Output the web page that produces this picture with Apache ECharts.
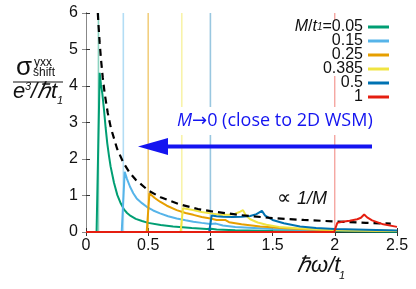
<!DOCTYPE html>
<html><head><meta charset="utf-8">
<script src="https://cdn.jsdelivr.net/npm/echarts@6/dist/echarts.min.js"></script>
<style>html,body{margin:0;padding:0;background:#fff}#c{width:416px;height:289px}</style>
</head><body><div id="c"></div>
<script>
// ---- data ----
const massLabels = ['0.05', '0.15', '0.25', '0.385', '0.5', '1'];
const gapOnsets = [0.1, 0.3, 0.5, 0.77, 1.0, 2.0];   // ħω = 2M
const xTicks = [0, 0.5, 1, 1.5, 2, 2.5];
const yTicks = [0, 1, 2, 3, 4, 5, 6];

const curveM005 = [[0,0],[0.085,0],[0.11,4.36],[0.12,4.05],[0.131,3.8],[0.145,3.34],[0.158,2.85],[0.171,2.43],[0.185,2.08],[0.198,1.79],[0.225,1.35],[0.252,1.01],[0.28,0.78],[0.305,0.62],[0.33,0.52],[0.359,0.44],[0.4,0.36],[0.45,0.3],[0.5,0.25],[0.6,0.19],[0.7,0.15],[0.85,0.11],[0.97,0.08],[1.005,0.09],[1.05,0.07],[1.2,0.05],[1.5,0.03],[2,0.02],[2.5,0.01]];
const curveM015 = [[0,0],[0.287,0],[0.311,1.65],[0.33,1.45],[0.354,1.24],[0.38,1.06],[0.407,0.92],[0.45,0.79],[0.488,0.69],[0.54,0.59],[0.595,0.51],[0.66,0.43],[0.729,0.37],[0.8,0.32],[0.863,0.28],[0.93,0.25],[1.0,0.22],[1.044,0.23],[1.1,0.18],[1.2,0.14],[1.35,0.11],[1.5,0.08],[1.75,0.06],[2,0.05],[2.25,0.04],[2.5,0.03]];
const curveM025 = [[0,0],[0.488,0],[0.51,1.06],[0.55,0.94],[0.595,0.83],[0.65,0.72],[0.729,0.6],[0.8,0.52],[0.863,0.47],[0.93,0.41],[1.0,0.37],[1.05,0.33],[1.118,0.33],[1.15,0.27],[1.25,0.21],[1.4,0.15],[1.6,0.1],[1.8,0.07],[2,0.05],[2.25,0.04],[2.5,0.03]];
const curveM0385 = [[0,0],[0.76,0],[0.78,0.65],[0.86,0.6],[0.93,0.55],[1.0,0.51],[1.08,0.47],[1.15,0.47],[1.2,0.5],[1.24,0.56],[1.262,0.6],[1.285,0.45],[1.32,0.35],[1.38,0.26],[1.45,0.2],[1.55,0.14],[1.7,0.1],[1.9,0.07],[2.1,0.05],[2.5,0.03]];
const curveM05 = [[0,0],[0.99,0],[1.01,0.45],[1.05,0.43],[1.1,0.42],[1.18,0.41],[1.25,0.42],[1.32,0.44],[1.37,0.49],[1.414,0.58],[1.44,0.45],[1.5,0.33],[1.59,0.24],[1.72,0.15],[1.85,0.11],[2,0.08],[2.25,0.06],[2.5,0.04]];
const curveM1 = [[0,0],[1.995,0],[2.02,0.25],[2.06,0.28],[2.12,0.31],[2.18,0.35],[2.21,0.39],[2.236,0.48],[2.26,0.4],[2.3,0.32],[2.39,0.21],[2.5,0.14]];
const inverseM = [[0.095,6],[0.1,5.7],[0.11,5.18],[0.12,4.75],[0.135,4.22],[0.15,3.8],[0.175,3.26],[0.2,2.85],[0.25,2.28],[0.3,1.9],[0.35,1.63],[0.4,1.43],[0.5,1.14],[0.6,0.95],[0.75,0.76],[0.9,0.63],[1,0.57],[1.25,0.46],[1.5,0.38],[1.75,0.33],[2,0.29],[2.25,0.25],[2.45,0.23]];

const curves = [curveM005, curveM015, curveM025, curveM0385, curveM05, curveM1];

// ---- styles ----
const colors = ['#009e73', '#56b4e9', '#e69f00', '#f0e442', '#0072b2', '#e51e10'];
const lightColors = ['rgba(0,158,115,0.45)', 'rgba(86,180,233,0.45)', 'rgba(230,159,0,0.5)', 'rgba(240,228,66,0.45)', 'rgba(0,114,178,0.4)', 'rgba(229,30,16,0.55)'];
const FONT = 'Liberation Sans, Arial, sans-serif';

const chart = echarts.init(document.getElementById('c'), null, {renderer: 'canvas'});

const series = [];
gapOnsets.forEach((x, i) => {
  series.push({
    type: 'line', name: 'gap' + i, silent: true, symbol: 'none', z: 1,
    data: [[x, yTicks[0]], [x, yTicks[yTicks.length - 1]]],
    lineStyle: {color: lightColors[i], width: i === 5 ? 1 : 1.6}
  });
});
curves.forEach((c, i) => {
  if (i === 5) {
    series.push({
      type: 'line', name: 'inv', symbol: 'none', z: 3, data: inverseM,
      lineStyle: {color: '#000', width: 2.2, type: [7, 5]}
    });
  }
  series.push({
    type: 'line', name: massLabels[i], symbol: 'none', z: 3 + (i === 5 ? 2 : 0), data: c,
    itemStyle: {color: colors[i]},
    lineStyle: {color: colors[i], width: 2}
  });
});

const axisCommon = {
  type: 'value', splitLine: {show: false},
  axisTick: {show: true, inside: true, length: 4, lineStyle: {color: '#333'}},
};

chart.setOption({
  animation: false,
  backgroundColor: '#fff',
  grid: {left: 86, right: 19, top: 13, bottom: 57},
  xAxis: [
    Object.assign({}, axisCommon, {
      min: xTicks[0], max: xTicks[xTicks.length - 1], interval: 0.5,
      axisLine: {lineStyle: {color: '#333', width: 1}},
      axisLabel: {fontSize: 16, color: '#111', fontFamily: FONT, margin: 6}
    }),
    Object.assign({}, axisCommon, {
      position: 'top', min: xTicks[0], max: xTicks[xTicks.length - 1], interval: 0.5,
      axisLine: {lineStyle: {color: '#222', width: 1.2}},
      axisLabel: {show: false}
    })
  ],
  yAxis: [
    Object.assign({}, axisCommon, {
      min: yTicks[0], max: yTicks[yTicks.length - 1], interval: 1,
      axisLine: {show: true, lineStyle: {color: '#333', width: 1}},
      axisLabel: {fontSize: 16, color: '#111', fontFamily: FONT, margin: 8}
    }),
    Object.assign({}, axisCommon, {
      position: 'right', min: yTicks[0], max: yTicks[yTicks.length - 1], interval: 1,
      axisLine: {show: true, lineStyle: {color: '#888', width: 1}},
      axisTick: {show: true, inside: true, length: 4, lineStyle: {color: '#888'}},
      axisLabel: {show: false}
    })
  ],
  legend: {
    data: massLabels,
    orient: 'vertical', align: 'right', right: 27, top: 19, padding: 0,
    itemGap: -2, itemWidth: 21, itemHeight: 3, icon: 'rect',
    formatter: (name) => name === massLabels[0] ? '{i|M}/{i|t}{s|1}=' + name : name,
    textStyle: {
      fontSize: 16, fontFamily: FONT, color: '#111', lineHeight: 14, height: 14,
      backgroundColor: '#fff',
      rich: {
        i: {fontSize: 16, fontStyle: 'italic', fontFamily: FONT, color: '#111', lineHeight: 14, height: 14},
        s: {fontSize: 10, fontStyle: 'italic', fontFamily: FONT, color: '#111', lineHeight: 14, height: 14, verticalAlign: 'bottom'}
      }
    }
  },
  series: series,
  graphic: [
    // y-axis title (fraction)
    {type: 'text', left: 16, top: 55, style: {text: 'σ', font: '26px ' + FONT, fill: '#111'}},
    {type: 'text', left: 34, top: 57, style: {text: 'yxx', font: '12px ' + FONT, fill: '#111'}},
    {type: 'text', left: 33, top: 67, style: {text: 'shift', font: '12px ' + FONT, fill: '#111'}},
    {type: 'line', shape: {x1: 13, y1: 82, x2: 63, y2: 82}, style: {stroke: '#111', lineWidth: 1.2}},
    {type: 'text', left: 13, top: 81, style: {text: 'e', font: 'italic 22px ' + FONT, fill: '#111'}},
    {type: 'text', left: 25, top: 81, style: {text: '3', font: 'italic 11px ' + FONT, fill: '#111'}},
    {type: 'text', left: 31, top: 81, style: {text: '/ℏt', font: 'italic 22px ' + FONT, fill: '#111'}},
    {type: 'text', left: 57, top: 95, style: {text: '1', font: 'italic 11px ' + FONT, fill: '#111'}},
    // x-axis title
    {type: 'text', left: 297, top: 255, style: {text: 'ℏω/t', font: 'italic 22px ' + FONT, fill: '#111'}},
    {type: 'text', left: 339, top: 270, style: {text: '1', font: 'italic 11px ' + FONT, fill: '#111'}},
    // ∝1/M annotation
    {type: 'text', left: 277, top: 189, style: {text: '∝', font: '20px DejaVu Sans, ' + FONT, fill: '#111'}},
    {type: 'text', left: 297, top: 190, style: {text: '1/M', font: 'italic 18px ' + FONT, fill: '#111'}},
    // blue annotation with white box
    {type: 'text', left: 172, top: 107, z: 10, style: {
      text: '{i|M}{a|→}0 (close to 2D WSM)',
      font: '18px Open Sans, ' + FONT, fill: '#1414f0',
      backgroundColor: '#fff', padding: [5, 4, 5, 5],
      rich: {
        i: {font: 'italic 18px Open Sans, ' + FONT, fill: '#1414f0'},
        a: {font: '18px DejaVu Sans, ' + FONT, fill: '#1414f0'}
      }
    }},
    {type: 'line', z: 10, shape: {x1: 166, y1: 146.5, x2: 372, y2: 146.5}, style: {stroke: '#1414f0', lineWidth: 4}},
    {type: 'polygon', z: 10, shape: {points: [[138, 146.5], [168, 138], [168, 155]]}, style: {fill: '#1414f0'}}
  ]
});
</script></body></html>
